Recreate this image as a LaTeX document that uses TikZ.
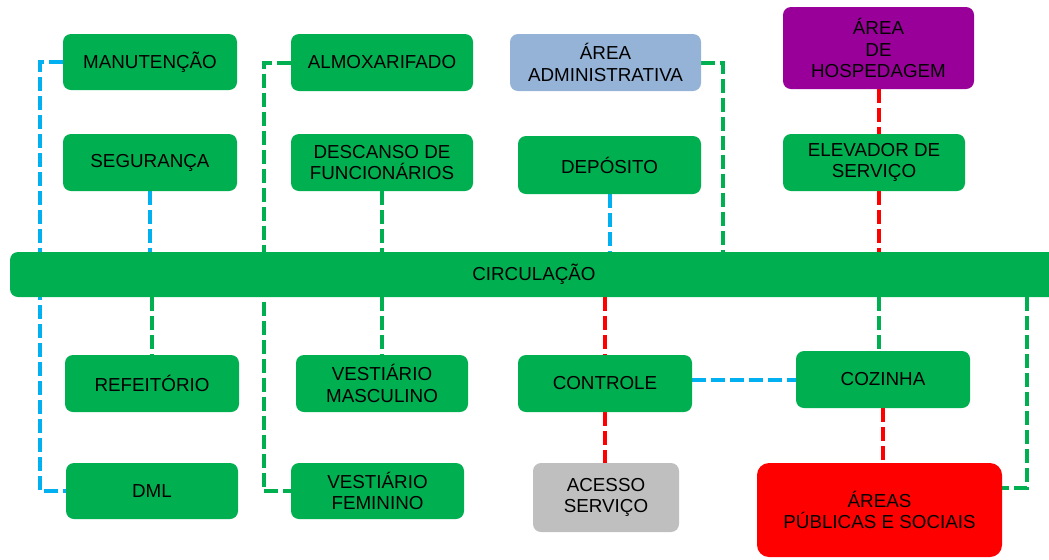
\documentclass[tikz,border=0pt]{standalone}
\usepackage{fontspec}
\setmainfont{Liberation Sans}
\usetikzlibrary{backgrounds}
\definecolor{verde}{HTML}{00B050}
\definecolor{azul}{HTML}{00B0F0}
\definecolor{vermelho}{HTML}{FF0000}
\definecolor{roxo}{HTML}{990099}
\definecolor{azulclaro}{HTML}{95B3D7}
\definecolor{cinza}{HTML}{BFBFBF}

\begin{document}
\begin{tikzpicture}[x=0.5pt,y=-0.5pt,
    caixa/.style={rectangle, rounded corners=4pt, fill=verde, inner sep=0pt,
        align=center, font=\fontsize{9.4}{10.8}\selectfont},
    liga/.style={line width=2pt, dash pattern=on 7pt off 2.5pt}]
\useasboundingbox (0,0) rectangle (1049,559);

% circulacao
\node[caixa, minimum width=524pt, minimum height=22.5pt] (circ) at (534,274.5) {CIRCULAÇÃO};

% acima
\node[caixa, minimum width=87pt, minimum height=28pt] (manut) at (150,62) {MANUTENÇÃO};
\node[caixa, minimum width=87pt, minimum height=28.5pt] (seg) at (150,162.5) {SEGURANÇA};
\node[caixa, minimum width=91pt, minimum height=28.5pt] (almox) at (382,62.5) {ALMOXARIFADO};
\node[caixa, minimum width=91pt, minimum height=28.5pt] (descanso) at (382,162.5) {DESCANSO DE\\FUNCIONÁRIOS};
\node[caixa, fill=azulclaro, minimum width=95.5pt, minimum height=28.5pt] (admin) at (605.5,62.5) {ÁREA\\ADMINISTRATIVA};
\node[caixa, minimum width=91.5pt, minimum height=29pt] (deposito) at (609.5,165) {DEPÓSITO};
\node[caixa, fill=roxo, minimum width=95.5pt, minimum height=41pt] (hosped) at (878.5,48) {ÁREA\\DE\\HOSPEDAGEM};
\node[caixa, minimum width=91pt, minimum height=28.5pt] (elevador) at (874,162.5) {ELEVADOR DE\\SERVIÇO};

% abaixo
\node[caixa, minimum width=87pt, minimum height=28.5pt] (refeit) at (152,383.5) {REFEITÓRIO};
\node[caixa, minimum width=86pt, minimum height=28pt] (dml) at (152,491) {DML};
\node[caixa, minimum width=86pt, minimum height=28.5pt] (vestm) at (382,383.5) {VESTIÁRIO\\MASCULINO};
\node[caixa, minimum width=86.5pt, minimum height=28pt] (vestf) at (377.5,491) {VESTIÁRIO\\FEMININO};
\node[caixa, minimum width=87pt, minimum height=28.5pt] (controle) at (605,383.5) {CONTROLE};
\node[caixa, fill=cinza, minimum width=73pt, minimum height=34.5pt] (acesso) at (606,497.5) {ACESSO\\SERVIÇO};
\node[caixa, minimum width=87pt, minimum height=28.5pt] (cozinha) at (883,379.5) {COZINHA};
\node[caixa, fill=vermelho, rounded corners=6pt, minimum width=122.5pt, minimum height=47pt] (publicas) at (879.5,510) {ÁREAS\\PÚBLICAS E SOCIAIS};

\coordinate (pr) at (1027,488);

\begin{pgfonlayer}{background}
% azul
\draw[liga, azul] (manut.west) -- ++(-23,0) |- (dml.west);
\draw[liga, azul] (seg.south) -- (seg.south |- circ.north);
\draw[liga, azul] (deposito.south) -- (deposito.south |- circ.north);
\draw[liga, azul] (cozinha.west -| controle.east) -- (cozinha.west);
% verde
\draw[liga, verde] (circ.south -| refeit.north) -- (refeit.north);
\draw[liga, verde] (almox.west) -- ++(-27,0) |- (vestf.west);
\draw[liga, verde] (descanso.south) -- (descanso.south |- circ.north);
\draw[liga, verde] (circ.south -| vestm.north) -- (vestm.north);
\draw[liga, verde] (admin.east) -- ++(22,0) coordinate (ar) -- (ar |- circ.north);
\draw[liga, verde] (circ.south -| hosped.south) -- (cozinha.north -| hosped.south);
\draw[liga, verde] (pr |- circ.south) -- (pr) -- (pr -| publicas.east);
% vermelho
\draw[liga, vermelho] (hosped.south) -- (hosped.south |- elevador.north);
\draw[liga, vermelho] (hosped.south |- elevador.south) -- (hosped.south |- circ.north);
\draw[liga, vermelho] (circ.south -| controle.north) -- (controle.north);
\draw[liga, vermelho] (controle.south) -- (controle.south |- acesso.north);
\draw[liga, vermelho] (cozinha.south) -- (cozinha.south |- publicas.north);
\end{pgfonlayer}

\end{tikzpicture}
\end{document}
